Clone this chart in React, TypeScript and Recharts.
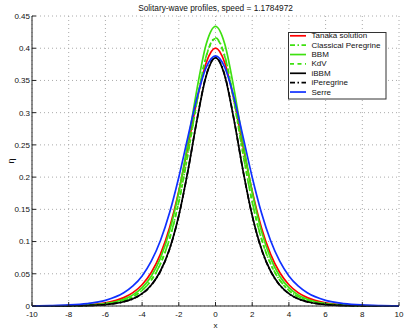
import { LineChart, Line, XAxis, YAxis, CartesianGrid, Label } from 'recharts';

// x positions of the sampled profiles
const xValues = [-10, -9, -8, -7, -6, -5, -4.5, -4, -3.5, -3, -2.5, -2, -1.5, -1, -0.5, 0, 0.5, 1, 1.5, 2, 2.5, 3, 3.5, 4, 4.5, 5, 6, 7, 8, 9, 10];

const tanaka = [0.0001, 0.0003, 0.0007, 0.0019, 0.005, 0.013, 0.0207, 0.033, 0.0519, 0.0805, 0.122, 0.1784, 0.2478, 0.3204, 0.3778, 0.4, 0.3778, 0.3204, 0.2478, 0.1784, 0.122, 0.0805, 0.0519, 0.033, 0.0207, 0.013, 0.005, 0.0019, 0.0007, 0.0003, 0.0001];
const classicalPeregrine = [0, 0.0001, 0.0004, 0.0011, 0.0031, 0.0087, 0.0146, 0.0244, 0.0403, 0.0658, 0.105, 0.162, 0.2366, 0.3195, 0.3885, 0.416, 0.3885, 0.3195, 0.2366, 0.162, 0.105, 0.0658, 0.0403, 0.0244, 0.0146, 0.0087, 0.0031, 0.0011, 0.0004, 0.0001, 0];
const bbm = [0.0001, 0.0002, 0.0005, 0.0014, 0.0038, 0.0105, 0.0173, 0.0284, 0.0462, 0.0743, 0.1166, 0.1768, 0.254, 0.3382, 0.407, 0.434, 0.407, 0.3382, 0.254, 0.1768, 0.1166, 0.0743, 0.0462, 0.0284, 0.0173, 0.0105, 0.0038, 0.0014, 0.0005, 0.0002, 0.0001];
const kdv = [0, 0.0001, 0.0004, 0.0011, 0.003, 0.0086, 0.0145, 0.0242, 0.04, 0.0654, 0.1045, 0.1614, 0.2359, 0.3188, 0.3877, 0.415, 0.3877, 0.3188, 0.2359, 0.1614, 0.1045, 0.0654, 0.04, 0.0242, 0.0145, 0.0086, 0.003, 0.0011, 0.0004, 0.0001, 0];
const ibbm = [0, 0.0001, 0.0003, 0.0007, 0.0022, 0.0066, 0.0112, 0.0192, 0.0325, 0.0543, 0.0889, 0.1405, 0.2102, 0.29, 0.3578, 0.385, 0.3578, 0.29, 0.2102, 0.1405, 0.0889, 0.0543, 0.0325, 0.0192, 0.0112, 0.0066, 0.0022, 0.0007, 0.0003, 0.0001, 0];
const iPeregrine = [0, 0.0001, 0.0002, 0.0007, 0.0022, 0.0065, 0.0111, 0.019, 0.0322, 0.054, 0.0884, 0.14, 0.21, 0.2905, 0.3588, 0.386, 0.3588, 0.2905, 0.21, 0.14, 0.0884, 0.054, 0.0322, 0.019, 0.0111, 0.0065, 0.0022, 0.0007, 0.0002, 0.0001, 0];
const serre = [0.0003, 0.0007, 0.0016, 0.0038, 0.0088, 0.0205, 0.0311, 0.0467, 0.0695, 0.1016, 0.145, 0.1999, 0.2627, 0.3243, 0.3706, 0.388, 0.3706, 0.3243, 0.2627, 0.1999, 0.145, 0.1016, 0.0695, 0.0467, 0.0311, 0.0205, 0.0088, 0.0038, 0.0016, 0.0007, 0.0003];

const xTicks = [-10, -8, -6, -4, -2, 0, 2, 4, 6, 8, 10];
const yTicks = [0, 0.05, 0.1, 0.15, 0.2, 0.25, 0.3, 0.35, 0.4, 0.45];

const GREEN = '#3ee010';
const FONT = '"Liberation Sans", Arial, sans-serif';
const AXIS = '#222';

const series = [
  { key: 'tanaka', name: 'Tanaka solution', values: tanaka, color: '#ff0000', dash: undefined },
  { key: 'cp', name: 'Classical Peregrine', values: classicalPeregrine, color: GREEN, dash: '5 2.5 1.5 2.5' },
  { key: 'bbm', name: 'BBM', values: bbm, color: GREEN, dash: undefined },
  { key: 'kdv', name: 'KdV', values: kdv, color: GREEN, dash: '4 3.5' },
  { key: 'ibbm', name: 'iBBM', values: ibbm, color: '#000000', dash: undefined },
  { key: 'iper', name: 'iPeregrine', values: iPeregrine, color: '#000000', dash: '5 2.5 1.5 2.5' },
  { key: 'serre', name: 'Serre', values: serre, color: '#1030ff', dash: undefined },
];

const data = xValues.map((x, i) => {
  const row: any = { x };
  series.forEach((s) => {
    row[s.key] = s.values[i];
  });
  return row;
});

const tickStyle = { fontSize: 8, fill: '#111', fontFamily: FONT };

export default function App() {
  return (
    <div style={{ position: 'absolute', left: 0, top: 0, width: 407, height: 330, background: '#fff', fontFamily: FONT }}>
      <LineChart width={407} height={330} data={data} margin={{ top: 16, right: 8, bottom: 0, left: 0 }}>
        <CartesianGrid stroke="#aaa" strokeDasharray="1 3" />
        <XAxis
          dataKey="x"
          type="number"
          domain={[-10, 10]}
          ticks={xTicks}
          height={24}
          tickSize={-4}
          tickMargin={9.5}
          tick={tickStyle}
          axisLine={{ stroke: AXIS }}
          tickLine={{ stroke: AXIS }}
        >
          <Label
            content={() => (
              <text x={215.5} y={327.5} textAnchor="middle" fontSize={8} fill="#111" fontFamily={FONT}>
                x
              </text>
            )}
          />
        </XAxis>
        <XAxis
          xAxisId="top"
          orientation="top"
          dataKey="x"
          type="number"
          domain={[-10, 10]}
          ticks={xTicks}
          height={0}
          tickSize={-4}
          tick={false}
          axisLine={{ stroke: AXIS }}
          tickLine={{ stroke: AXIS }}
        />
        <YAxis
          type="number"
          domain={[0, 0.45]}
          ticks={yTicks}
          width={32}
          tickSize={-4}
          tickMargin={6}
          tick={tickStyle}
          axisLine={{ stroke: AXIS }}
          tickLine={{ stroke: AXIS }}
        >
          <Label
            content={() => (
              <text x={11} y={161} textAnchor="middle" dominantBaseline="central" fontSize={9} fill="#111" fontFamily={FONT} transform="rotate(-90 11 161)">
                η
              </text>
            )}
          />
        </YAxis>
        <YAxis
          yAxisId="right"
          orientation="right"
          type="number"
          domain={[0, 0.45]}
          ticks={yTicks}
          width={0}
          tickSize={-4}
          tick={false}
          axisLine={{ stroke: AXIS }}
          tickLine={{ stroke: AXIS }}
        />
        {series.map((s) => (
          <Line
            key={s.key}
            type="monotone"
            dataKey={s.key}
            name={s.name}
            stroke={s.color}
            strokeWidth={1.7}
            strokeDasharray={s.dash}
            dot={false}
            isAnimationActive={false}
          />
        ))}
      </LineChart>
      <svg width={407} height={330} style={{ position: 'absolute', left: 0, top: 0, pointerEvents: 'none' }}>
        <text x={215.5} y={10.7} textAnchor="middle" fontSize={8.3} fill="#111" fontFamily={FONT}>
          Solitary-wave profiles, speed = 1.1784972
        </text>
        <rect x={288.5} y={32.5} width={97.5} height={66.5} fill="#fff" stroke="#333" strokeWidth={1} />
        {series.map((s, i) => {
          const y = 35.8 + i * 9.37;
          return (
            <g key={s.key}>
              <line x1={290} x2={306} y1={y} y2={y} stroke={s.color} strokeWidth={1.7} strokeDasharray={s.dash} />
              <text x={311.5} y={y} dominantBaseline="central" fontSize={8} fill="#111" fontFamily={FONT}>
                {s.name}
              </text>
            </g>
          );
        })}
      </svg>
    </div>
  );
}
